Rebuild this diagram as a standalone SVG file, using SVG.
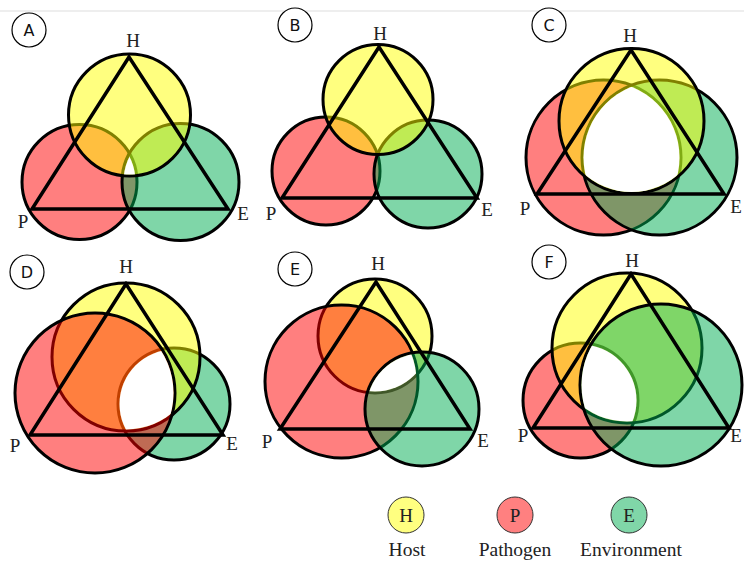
<svg xmlns="http://www.w3.org/2000/svg" width="744" height="564" viewBox="0 0 744 564">
<style>
.y{fill:#ffff00;fill-opacity:0.5;stroke:#000;stroke-width:3}
.r{fill:#ff0000;fill-opacity:0.5;stroke:#000;stroke-width:3}
.g{fill:#00ad51;fill-opacity:0.5;stroke:#000;stroke-width:3}
.hole{fill:#fff;stroke:none}
.tri{fill:none;stroke:#000;stroke-width:3.5;stroke-linejoin:miter}
.v{font-family:"Liberation Serif","Times New Roman",serif;font-size:19px;fill:#222;text-anchor:middle}
.tag circle{fill:#fff;stroke:#000;stroke-width:1.2}
.tag text{font-family:"DejaVu Sans",sans-serif;font-size:16px;fill:#111;text-anchor:middle}
.leg circle{stroke:#333;stroke-width:1}
.lt{font-family:"Liberation Serif","Times New Roman",serif;font-size:19.5px;fill:#222;text-anchor:middle}
</style>
<defs>
<clipPath id="cA1"><circle cx="79.5" cy="182" r="56"/></clipPath>
<clipPath id="cA2"><circle cx="180.5" cy="182" r="57"/></clipPath>
<clipPath id="cC1"><circle cx="603.5" cy="157.5" r="76"/></clipPath>
<clipPath id="cC2"><circle cx="659.5" cy="157.5" r="76"/></clipPath>
<clipPath id="cD1"><circle cx="95" cy="393" r="78.5"/></clipPath>
<clipPath id="cD2"><circle cx="174" cy="404" r="54.5"/></clipPath>
<clipPath id="cE1"><circle cx="341.5" cy="381.5" r="75"/></clipPath>
<clipPath id="cE2"><circle cx="422" cy="409" r="55.5"/></clipPath>
<clipPath id="cF1"><circle cx="580.5" cy="400.5" r="56"/></clipPath>
<clipPath id="cF2"><circle cx="661" cy="385" r="79.5"/></clipPath>
</defs>
<rect x="0" y="0" width="744" height="564" fill="#fff"/>
<line x1="0" y1="11" x2="744" y2="11" stroke="#ddd" stroke-width="1"/>

<g id="panel-A">
<circle class="r" cx="79.5" cy="182" r="57.5"/>
<circle class="g" cx="180.5" cy="182" r="58.5"/>
<circle class="y" cx="129.5" cy="115" r="61"/>
<g clip-path="url(#cA1)"><g clip-path="url(#cA2)"><circle class="hole" cx="129.5" cy="115" r="59.5"/></g></g>
<polygon class="tri" points="129,57 32,209 228,209"/>
<text class="v" x="133" y="47">H</text>
<text class="v" x="23" y="228">P</text>
<text class="v" x="243" y="220">E</text>
<g class="tag"><circle cx="29" cy="30" r="17"/><text x="29" y="36">A</text></g>
</g>

<g id="panel-B">
<circle class="r" cx="326" cy="171" r="54"/>
<circle class="g" cx="428" cy="174" r="54"/>
<circle class="y" cx="378" cy="99.5" r="55"/>
<polygon class="tri" points="379,47 282,198 477,198"/>
<text class="v" x="380" y="40">H</text>
<text class="v" x="271" y="220">P</text>
<text class="v" x="487" y="216">E</text>
<g class="tag"><circle cx="295" cy="25" r="17"/><text x="295" y="31">B</text></g>
</g>

<g id="panel-C">
<circle class="r" cx="603.5" cy="157.5" r="77.5"/>
<circle class="g" cx="659.5" cy="157.5" r="77.5"/>
<circle class="y" cx="631.5" cy="121" r="72.5"/>
<g clip-path="url(#cC1)"><g clip-path="url(#cC2)"><circle class="hole" cx="631.5" cy="121" r="71"/></g></g>
<polygon class="tri" points="631,50 537,194 724,194"/>
<text class="v" x="630" y="42">H</text>
<text class="v" x="525" y="215">P</text>
<text class="v" x="736" y="213">E</text>
<g class="tag"><circle cx="549" cy="25" r="17"/><text x="549" y="31">C</text></g>
</g>

<g id="panel-D">
<circle class="g" cx="174" cy="404" r="56"/>
<circle class="y" cx="126" cy="357" r="74"/>
<circle class="r" cx="95" cy="393" r="80"/>
<g clip-path="url(#cD1)"><g clip-path="url(#cD2)"><circle class="hole" cx="126" cy="357" r="72.5"/></g></g>
<polygon class="tri" points="126,284 30,435 223,435"/>
<text class="v" x="126" y="273">H</text>
<text class="v" x="15" y="452">P</text>
<text class="v" x="232" y="450">E</text>
<g class="tag"><circle cx="27" cy="272" r="17"/><text x="27" y="278">D</text></g>
</g>

<g id="panel-E">
<circle class="y" cx="375" cy="336" r="57"/>
<circle class="r" cx="341.5" cy="381.5" r="76.5"/>
<circle class="g" cx="422" cy="409" r="57"/>
<g clip-path="url(#cE1)"><g clip-path="url(#cE2)"><circle class="hole" cx="375" cy="336" r="55.5"/></g></g>
<polygon class="tri" points="376,282 280,429 470,429"/>
<text class="v" x="378" y="270">H</text>
<text class="v" x="267" y="448">P</text>
<text class="v" x="483" y="447">E</text>
<g class="tag"><circle cx="295" cy="269" r="17"/><text x="295" y="275">E</text></g>
</g>

<g id="panel-F">
<circle class="r" cx="580.5" cy="400.5" r="57.5"/>
<circle class="y" cx="627" cy="348" r="75"/>
<circle class="g" cx="661" cy="385" r="81"/>
<g clip-path="url(#cF1)"><g clip-path="url(#cF2)"><circle class="hole" cx="627" cy="348" r="73.5"/></g></g>
<polygon class="tri" points="631,274 533,428 729,428"/>
<text class="v" x="632" y="267">H</text>
<text class="v" x="523" y="442">P</text>
<text class="v" x="736" y="442">E</text>
<g class="tag"><circle cx="549" cy="262" r="17"/><text x="549" y="268">F</text></g>
</g>

<g id="legend-host" class="leg">
<circle cx="406" cy="515" r="18" fill="#ffff80"/>
<text class="v" x="406" y="522">H</text>
<text class="lt" x="407" y="556">Host</text>
</g>
<g id="legend-pathogen" class="leg">
<circle cx="515" cy="515" r="18" fill="#ff8080"/>
<text class="v" x="515" y="522">P</text>
<text class="lt" x="515" y="556">Pathogen</text>
</g>
<g id="legend-environment" class="leg">
<circle cx="629" cy="515" r="18" fill="#80d6a8"/>
<text class="v" x="629" y="522">E</text>
<text class="lt" x="631" y="556">Environment</text>
</g>
</svg>
